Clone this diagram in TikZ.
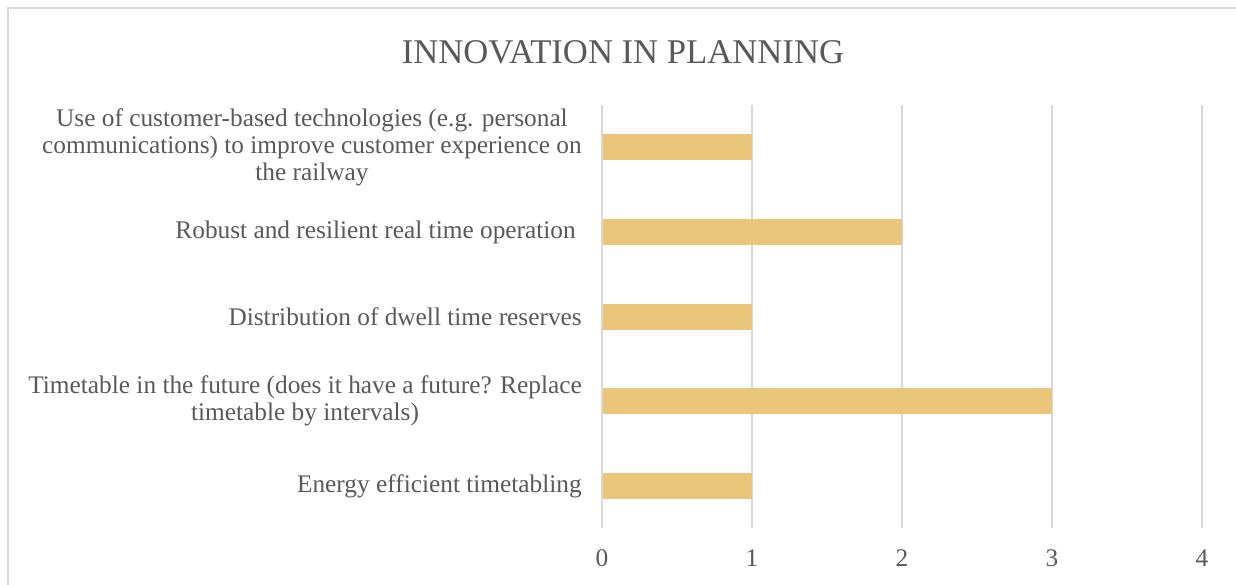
\documentclass[tikz,border=0pt]{standalone}
\usepackage{fontspec}
\setmainfont{Liberation Serif}
\usetikzlibrary{positioning}
\definecolor{barfill}{HTML}{EBC57A}
\definecolor{gridgray}{HTML}{D9D9D9}
\definecolor{textgray}{HTML}{595959}

\begin{document}
\begin{tikzpicture}[x=0.75pt,y=-0.75pt,
  cat/.style={anchor=east,align=center,text=textgray,inner sep=0pt,
    font=\fontsize{19}{20.25}\selectfont},
  tick/.style={text=textgray,inner sep=0pt,font=\fontsize{19}{22}\selectfont},
  gridline/.style={draw=gridgray,line width=1.4pt},
  bar/.style={fill=barfill}]
\useasboundingbox (0,0) rectangle (1236,585);
% frame
\draw[gridgray,line width=1pt] (8,585) -- (8,8) -- (1236,8);
% title
\node (title) [text=textgray,font=\fontsize{26}{30}\selectfont] at (623,52) {INNOVATION IN PLANNING};
%
\coordinate (t0) at (602,105); \coordinate (b0) at (602,528);
\coordinate (t1) at (752,105); \coordinate (b1) at (752,528);
\coordinate (t2) at (902,105); \coordinate (b2) at (902,528);
\coordinate (t3) at (1052,105); \coordinate (b3) at (1052,528);
\coordinate (t4) at (1202,105); \coordinate (b4) at (1202,528);
\draw[gridline] (t0) -- (b0);
\draw[gridline] (t1) -- (b1);
\draw[gridline] (t2) -- (b2);
\draw[gridline] (t3) -- (b3);
\draw[gridline] (t4) -- (b4);
%
\node (x0) [tick] at (602,558) {0};
\node (x1) [tick] at (752,558) {1};
\node (x2) [tick] at (902,558) {2};
\node (x3) [tick] at (1052,558) {3};
\node (x4) [tick] at (1202,558) {4};
% bars
\fill[bar] (603,134) rectangle (752,160);
\fill[bar] (603,219) rectangle (902,245);
\fill[bar] (603,304) rectangle (752,330);
\fill[bar] (603,388) rectangle (1052,414);
\fill[bar] (603,473) rectangle (752,499);
% categories
\node (c1) [cat] at (582,147) {Use of customer-based technologies (e.g. personal\\communications) to improve customer experience on\\the railway};
\node (c2) [cat] at (576,232) {Robust and resilient real time operation};
\node (c3) [cat] at (582,317) {Distribution of dwell time reserves};
\node (c4) [cat] at (582,401) {Timetable in the future (does it have a future? Replace\\timetable by intervals)};
\node (c5) [cat] at (582,486) {Energy efficient timetabling};
\end{tikzpicture}
\end{document}
